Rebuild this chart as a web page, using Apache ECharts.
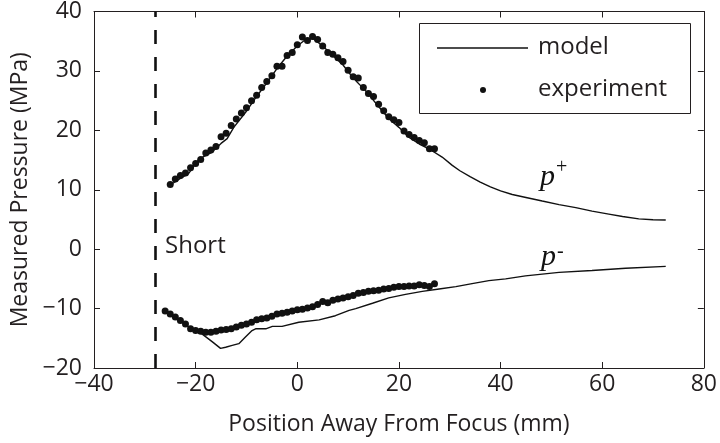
<!DOCTYPE html>
<html><head><meta charset="utf-8">
<script src="https://cdn.jsdelivr.net/npm/echarts@6/dist/echarts.min.js"></script>
<style>html,body{margin:0;padding:0;background:#fff}#c{width:720px;height:443px}</style>
</head><body><div id="c"></div>
<script>
// ---- data ----
const expPlusX = [-25,-24,-23,-22,-21,-20,-19,-18,-17,-16,-15,-14,-13,-12,-11,-10,-9,-8,-7,-6,-5,-4,-3,-2,-1,0,1,2,3,4,5,6,7,8,9,10,11,12,13,14,15,16,17,18,19,20,21,22,23,24,25,26,27];
const expPlusY = [10.9,11.8,12.4,12.8,13.7,14.4,15.1,16.2,16.7,17.3,18.9,19.5,20.8,21.9,22.9,23.8,25.0,25.9,27.2,28.2,29.2,30.8,30.8,32.6,33.1,34.4,35.7,35.1,35.8,35.3,34.2,33.1,32.8,32.2,31.6,30.1,29.0,28.8,27.2,26.2,25.7,24.4,23.3,22.3,21.8,21.3,19.9,19.3,18.8,18.3,17.9,16.9,16.9];
const expMinusX = [-26,-25,-24,-23,-22,-21,-20,-19,-18,-17,-16,-15,-14,-13,-12,-11,-10,-9,-8,-7,-6,-5,-4,-3,-2,-1,0,1,2,3,4,5,6,7,8,9,10,11,12,13,14,15,16,17,18,19,20,21,22,23,24,25,26,27];
const expMinusY = [-10.4,-10.9,-11.4,-12.0,-12.6,-13.4,-13.7,-13.8,-14.0,-14.0,-13.8,-13.6,-13.5,-13.4,-13.1,-12.8,-12.6,-12.3,-11.9,-11.7,-11.6,-11.3,-10.9,-10.8,-10.6,-10.4,-10.2,-10.1,-9.9,-9.7,-9.3,-8.8,-9.0,-8.6,-8.4,-8.2,-8.0,-7.8,-7.4,-7.3,-7.1,-7.0,-6.9,-6.7,-6.6,-6.4,-6.3,-6.3,-6.2,-6.2,-6.0,-6.1,-6.3,-5.8];
const modelPlusX = [-25,-23,-21.4,-19.3,-17,-15,-13.8,-12.5,-10.2,-8,-6,-4,-2,0,1.5,3,5,7,9,11,13.5,16,18,20,22,24,25.9,28.5,30.5,32,34,36,38,40,42.3,45,48.2,51.5,54.8,58,61.3,64,67.2,70,72.5];
const modelPlusY = [10.8,11.9,12.7,15.2,16.2,17.8,18.6,20.5,23.0,25.7,28.0,30.4,32.5,34.2,35.2,35.5,34.2,32.6,31.0,28.8,26.6,24.0,22.0,20.5,18.8,17.7,16.9,15.5,14.1,13.2,12.2,11.3,10.5,9.8,9.2,8.7,8.1,7.5,7.0,6.4,5.9,5.5,5.1,4.95,4.9];
const modelMinusX = [-25,-23,-21.3,-18.7,-16.7,-15.1,-14.1,-12.8,-11.5,-10.2,-8.9,-8.2,-6.2,-4.9,-3,0.3,4.3,7.5,10.2,11.5,14.8,18,21.3,24.6,27.9,31.2,34.4,37.7,41,44.9,51.5,58,64.6,72.5];
const modelMinusY = [-11.0,-12.0,-13.1,-14.3,-15.6,-16.7,-16.5,-16.2,-15.9,-14.8,-13.7,-13.4,-13.4,-13.0,-13.0,-12.3,-11.9,-11.2,-10.3,-10.0,-9.1,-8.2,-7.6,-7.1,-6.7,-6.3,-5.8,-5.3,-5.0,-4.5,-3.9,-3.6,-3.2,-2.9];
const shortX = -28;
const xTicks = {min: -40, max: 80, interval: 20};
const yTicks = {min: -20, max: 40, interval: 10};
const xName = 'Position Away From Focus (mm)';
const yName = 'Measured Pressure (MPa)';
const legendNames = ['model', 'experiment'];

const zip = (a, b) => a.map((v, i) => [v, b[i]]);
const FONT = '"Open Sans", sans-serif';
const INK = '#231f20';
const fmt = v => String(v).replace('-', '\u2212');

const chart = echarts.init(document.getElementById('c'), null, {renderer: 'canvas'});
const axisCommon = () => ({
  axisLine: {onZero: false, lineStyle: {color: INK, width: 1}},
  axisTick: {inside: true, length: 6, lineStyle: {color: INK}},
  splitLine: {show: false}
});
chart.setOption({
  animation: false,
  backgroundColor: '#fff',
  grid: {left: 94, right: 12, top: 9, bottom: 75},
  xAxis: [
    Object.assign({type: 'value', position: 'bottom', min: xTicks.min, max: xTicks.max, interval: xTicks.interval,
      name: xName, nameLocation: 'middle', nameGap: 45,
      nameTextStyle: {fontFamily: FONT, fontSize: 23, color: INK},
      axisLabel: {fontFamily: FONT, fontSize: 23, color: INK, margin: 5, formatter: fmt}}, axisCommon()),
    Object.assign({type: 'value', position: 'top', min: xTicks.min, max: xTicks.max, interval: xTicks.interval,
      axisLabel: {show: false}}, axisCommon())
  ],
  yAxis: [
    Object.assign({type: 'value', position: 'left', min: yTicks.min, max: yTicks.max, interval: yTicks.interval,
      name: yName, nameLocation: 'middle', nameGap: 62,
      nameTextStyle: {fontFamily: FONT, fontSize: 23, color: INK},
      axisLabel: {fontFamily: FONT, fontSize: 23, color: INK, margin: 12, formatter: fmt}}, axisCommon()),
    Object.assign({type: 'value', position: 'right', min: yTicks.min, max: yTicks.max, interval: yTicks.interval,
      axisLabel: {show: false}}, axisCommon())
  ],
  series: [
    {name: 'model', type: 'line', data: zip(modelPlusX, modelPlusY), showSymbol: false, symbol: 'none',
     lineStyle: {color: '#111', width: 1.4}, smooth: false,
     markLine: {silent: true, symbol: 'none', label: {show: false},
       lineStyle: {color: '#111', type: [14, 13], width: 2.6},
       data: [{xAxis: shortX}]}},
    {name: 'model', type: 'line', data: zip(modelMinusX, modelMinusY), showSymbol: false, symbol: 'none',
     lineStyle: {color: '#111', width: 1.4}},
    {name: 'experiment', type: 'scatter', data: zip(expPlusX, expPlusY), symbol: 'circle', symbolSize: 7,
     itemStyle: {color: '#111', opacity: 1}},
    {name: 'experiment', type: 'scatter', data: zip(expMinusX, expMinusY), symbol: 'circle', symbolSize: 7,
     itemStyle: {color: '#111', opacity: 1}}
  ],
  graphic: [
    {type: 'rect', shape: {x: 419.5, y: 23.5, width: 271, height: 90}, style: {fill: '#fff', stroke: INK, lineWidth: 1}, z: 10},
    {type: 'line', shape: {x1: 437, y1: 48, x2: 528, y2: 48}, style: {stroke: '#111', lineWidth: 1.4}, z: 11},
    {type: 'circle', shape: {cx: 483, cy: 90, r: 3}, style: {fill: '#111'}, z: 11},
    {type: 'text', x: 538, y: 47, style: {text: legendNames[0], font: '24px "Open Sans"', fill: INK, verticalAlign: 'middle'}, z: 11},
    {type: 'text', x: 538, y: 89, style: {text: legendNames[1], font: '24px "Open Sans"', fill: INK, verticalAlign: 'middle'}, z: 11},
    {type: 'text', x: 165, y: 246, style: {text: 'Short', font: '24px "Open Sans"', fill: INK, verticalAlign: 'middle'}, z: 11},
    {type: 'text', x: 540, y: 177, style: {text: 'p', font: 'italic 30px "Liberation Serif"', fill: '#111', verticalAlign: 'middle'}, z: 11},
    {type: 'text', x: 556, y: 168, style: {text: '+', font: '20px "Liberation Serif"', fill: '#111', verticalAlign: 'middle'}, z: 11},
    {type: 'text', x: 541, y: 257, style: {text: 'p', font: 'italic 30px "Liberation Serif"', fill: '#111', verticalAlign: 'middle'}, z: 11},
    {type: 'text', x: 557, y: 252, style: {text: '-', font: '20px "Liberation Serif"', fill: '#111', verticalAlign: 'middle'}, z: 11}
  ]
});
</script></body></html>
